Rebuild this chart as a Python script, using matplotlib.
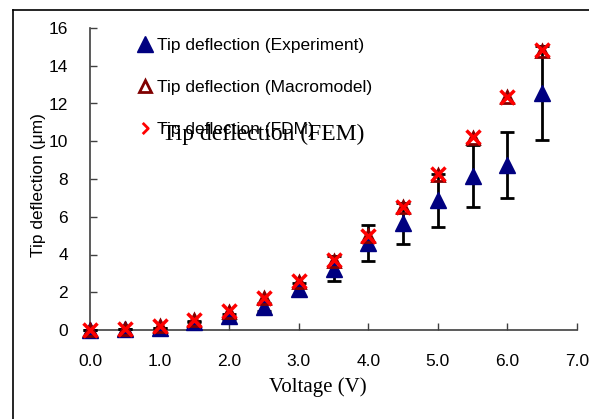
import numpy as np
import matplotlib
matplotlib.use("Agg")
import matplotlib.pyplot as plt
from matplotlib.lines import Line2D
from matplotlib.path import Path

# data
voltage = [0.0, 0.5, 1.0, 1.5, 2.0, 2.5, 3.0, 3.5, 4.0, 4.5, 5.0, 5.5, 6.0, 6.5]
exp_defl = [0.0, 0.03, 0.12, 0.45, 0.72, 1.22, 2.15, 3.25, 4.6, 5.65, 6.88, 8.15, 8.75, 12.55]
exp_err = [0.0, 0.0, 0.0, 0.05, 0.15, 0.2, 0.35, 0.65, 0.95, 1.1, 1.4, 1.65, 1.75, 2.5]
macro_defl = [0.02, 0.05, 0.2, 0.53, 0.97, 1.68, 2.56, 3.67, 4.98, 6.5, 8.2, 10.18, 12.36, 14.8]
fdm_defl = [0.02, 0.05, 0.2, 0.53, 1.0, 1.7, 2.6, 3.7, 5.0, 6.5, 8.25, 10.2, 12.35, 14.85]

x_ticks = [0, 1, 2, 3, 4, 5, 6, 7]
x_ticklabels = ["0.0", "1.0", "2.0", "3.0", "4.0", "5.0", "6.0", "7.0"]
y_ticks = [0, 2, 4, 6, 8, 10, 12, 14, 16]

sans = "Liberation Sans"
serif = "Liberation Serif"

fig = plt.figure(figsize=(5.89, 4.19), dpi=100)
ax = fig.add_axes([90 / 589, 89 / 419, 487 / 589, 302 / 419])

eb = ax.errorbar(voltage, exp_defl, yerr=exp_err, fmt="^", color="#000080",
                 markersize=11, ecolor="black", elinewidth=2, capsize=5,
                 capthick=2, zorder=3, clip_on=False)
ax.plot(voltage, macro_defl, "^", markersize=9, markerfacecolor="none",
        markeredgecolor="#800000", markeredgewidth=2, zorder=4, clip_on=False)
ax.plot(voltage, fdm_defl, "x", markersize=10.5, color="red",
        markeredgewidth=2.5, zorder=5, clip_on=False)

ax.set_xlim(0, 7)
ax.set_ylim(0, 16)
ax.set_xticks(x_ticks)
ax.set_xticklabels(x_ticklabels)
ax.set_yticks(y_ticks)
ax.tick_params(direction="in", length=5, width=1, color="#404040",
               labelsize=12.5, pad=16)
ax.tick_params(axis="x", pad=17)
for lab in ax.get_xticklabels() + ax.get_yticklabels():
    lab.set_family(sans)
for s in ["top", "right"]:
    ax.spines[s].set_visible(False)
for s in ["left", "bottom"]:
    ax.spines[s].set_color("#404040")
    ax.spines[s].set_linewidth(1.2)
ax.patch.set_alpha(0)

ax.set_xlabel("Voltage (V)", family=serif, fontsize=15)
ax.xaxis.set_label_coords(0.468, -0.158)
ax.set_ylabel("Tip deflection (\u03bcm)", family=sans, fontsize=12.5)
ax.yaxis.set_label_coords(-0.09, 0.48)

# legend
chevron = Path([(-0.5, 1), (0.5, 0), (-0.5, -1)],
               [Path.MOVETO, Path.LINETO, Path.LINETO])
h1 = Line2D([], [], marker="^", linestyle="none", color="#000080", markersize=11)
h2 = Line2D([], [], marker="^", linestyle="none", markerfacecolor="none",
            markeredgecolor="#800000", markeredgewidth=2, markersize=9)
h3 = Line2D([], [], marker=chevron, linestyle="none", markerfacecolor="none",
            markeredgecolor="red", markeredgewidth=2, markersize=8)
leg = ax.legend([h1, h2, h3],
                ["Tip deflection (Experiment)", "Tip deflection (Macromodel)",
                 "Tip deflection (FDM)"],
                loc="upper left", bbox_to_anchor=(136 / 589, 1 - 38 / 419),
                bbox_transform=fig.transFigure, frameon=False,
                prop={"family": sans, "size": 12.5}, handlelength=1,
                handletextpad=0.2, labelspacing=1.55, borderpad=0,
                borderaxespad=0)
fig.text(162 / 589, 1 - 140 / 419, "Tip deflection (FEM)", family=serif,
         fontsize=17, va="baseline", ha="left")

# outer frame (left and top edges only)
fig.add_artist(Line2D([13 / 589, 13 / 589], [0, 1 - 10 / 419],
                      transform=fig.transFigure, color="black", lw=1.2))
fig.add_artist(Line2D([13 / 589, 1], [1 - 10 / 419, 1 - 10 / 419],
                      transform=fig.transFigure, color="black", lw=1.2))

fig.savefig("out.png", dpi=100)
